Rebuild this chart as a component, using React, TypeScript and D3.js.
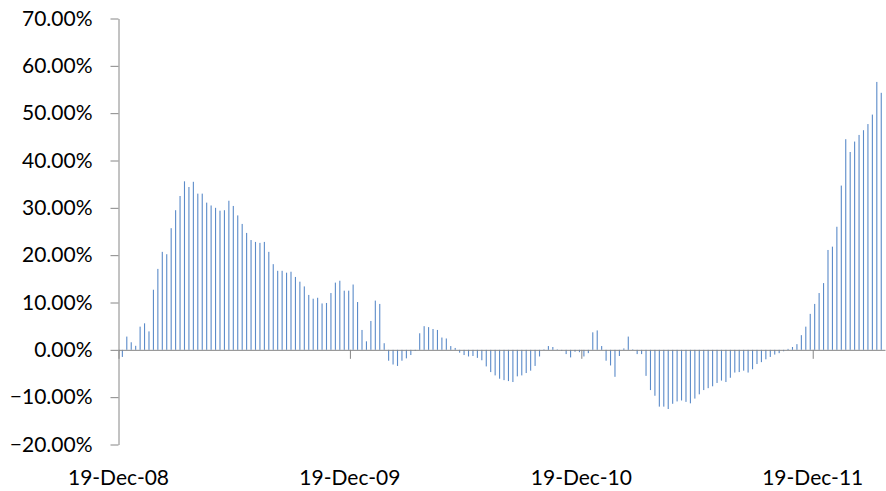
import * as d3 from 'd3';
import { useEffect, useRef } from 'react';

// weekly observations, first one on 25-Dec-08
const startDate = new Date(2008, 11, 25);

// weekly change, in percent
const changes = [
  -1.5, 2.8, 1.6, 0.85, 4.9, 5.6, 3.9, 12.7, 17.1, 20.7, 20.2, 25.7, 29.5, 32.5, 35.6, 34.4, 35.5, 33.0, 33.0, 31.1, 30.5,
  30.0, 29.4, 29.5, 31.5, 30.4, 28.4, 26.6, 24.7, 23.2, 22.8, 22.6, 22.8, 20.7, 18.1, 16.7, 16.7, 16.3, 16.5, 15.4, 14.4, 13.4,
  11.6, 10.8, 11.0, 9.8, 9.9, 12.0, 14.2, 14.6, 12.5, 12.5, 13.8, 10.1, 4.2, 1.8, 6.1, 10.4, 9.7, 1.4, -2.3, -3.1,
  -3.4, -2.3, -1.8, -1.1, -0.2, 3.5, 5.0, 4.8, 4.4, 4.2, 2.6, 2.4, 0.8, 0.4, -0.6, -1.1, -1.4, -1.3, -1.7, -2.2, -3.5,
  -4.7, -5.4, -6.1, -6.4, -6.6, -6.8, -5.6, -5.4, -4.9, -4.4, -3.4, -1.4, 0.1, 0.8, 0.6, 0.1, -0.2, -0.9, -1.6, -0.4, -0.5,
  -1.4, -0.7, 3.7, 4.1, 0.8, -2.3, -3.3, -5.7, -1.3, 0.3, 2.8, 0.1, -0.9, -0.9, -5.5, -8.5, -9.7, -12.0, -12.0, -12.5, -11.4,
  -10.9, -10.7, -11.0, -11.3, -10.3, -9.4, -8.5, -8.1, -7.7, -7.0, -6.5, -6.8, -5.9, -4.8, -4.7, -4.4, -4.8, -4.1, -3.0, -2.6, -2.0,
  -1.5, -1.0, -0.7, -0.3, 0.2, 0.6, 1.2, 3.1, 4.9, 7.6, 9.7, 12.0, 14.1, 21.1, 21.8, 26.0, 34.7, 44.5, 41.8, 44.0, 45.4, 46.4, 47.7, 49.7, 56.6, 54.3,
];

const xTickDates = [
  new Date(2008, 11, 19),
  new Date(2009, 11, 19),
  new Date(2010, 11, 19),
  new Date(2011, 11, 19),
];
const yTicks = [-0.2, -0.1, 0, 0.1, 0.2, 0.3, 0.4, 0.5, 0.6, 0.7];

const width = 886;
const height = 491;

function App() {
  const chartRef = useRef<SVGSVGElement>(null);

  useEffect(() => {
    document.body.style.margin = '0';

    const svg = d3.select(chartRef.current);
    svg.selectAll('*').remove();

    const data = changes.map((v, i) => ({
      date: d3.timeDay.offset(startDate, i * 7),
      value: v / 100,
    }));

    const x = d3
      .scaleTime()
      .domain([new Date(2008, 11, 19), new Date(2012, 3, 11)])
      .range([118.5, 885]);

    const y = d3.scaleLinear().domain([-0.2, 0.7]).range([444.5, 18.5]);

    const axisColor = '#868686';
    const font = 'Lato, "Open Sans", sans-serif';

    // bars
    svg
      .append('g')
      .selectAll('rect')
      .data(data)
      .enter()
      .append('rect')
      .attr('x', (d) => x(d.date) - 0.5)
      .attr('width', 1.1)
      .attr('y', (d) => y(Math.max(d.value, 0)))
      .attr('height', (d) => Math.abs(y(d.value) - y(0)))
      .attr('fill', '#5b8bc9');

    // y axis
    const yAxis = svg
      .append('g')
      .attr('transform', `translate(${x.range()[0]},0)`)
      .call(
        d3
          .axisLeft(y)
          .tickValues(yTicks)
          .tickFormat(d3.format('.2%'))
          .tickSize(8)
          .tickSizeOuter(0)
          .tickPadding(18)
      );
    yAxis.selectAll('path, line').attr('stroke', axisColor);
    yAxis
      .selectAll('text')
      .attr('fill', '#000')
      .attr('style', `font-family: ${font}; font-size: 21px;`);

    // x axis on the zero line
    const xAxis = svg
      .append('g')
      .attr('transform', `translate(0,${y(0)})`)
      .call(
        d3
          .axisBottom(x)
          .tickValues(xTickDates)
          .tickFormat(() => '')
          .tickSize(9)
          .tickSizeOuter(0)
      );
    xAxis.selectAll('path, line').attr('stroke', axisColor);

    // x labels below the plot
    svg
      .append('g')
      .selectAll('text')
      .data(xTickDates)
      .enter()
      .append('text')
      .attr('x', (d) => x(d))
      .attr('y', 485)
      .attr('text-anchor', 'middle')
      .attr('style', `font-family: ${font}; font-size: 21px;`)
      .attr('fill', '#000')
      .text((d) => d3.timeFormat('%d-%b-%y')(d));
  }, []);

  return (
    <svg
      ref={chartRef}
      width={width}
      height={height}
      style={{ display: 'block', background: '#fff' }}
    />
  );
}

export default App;
